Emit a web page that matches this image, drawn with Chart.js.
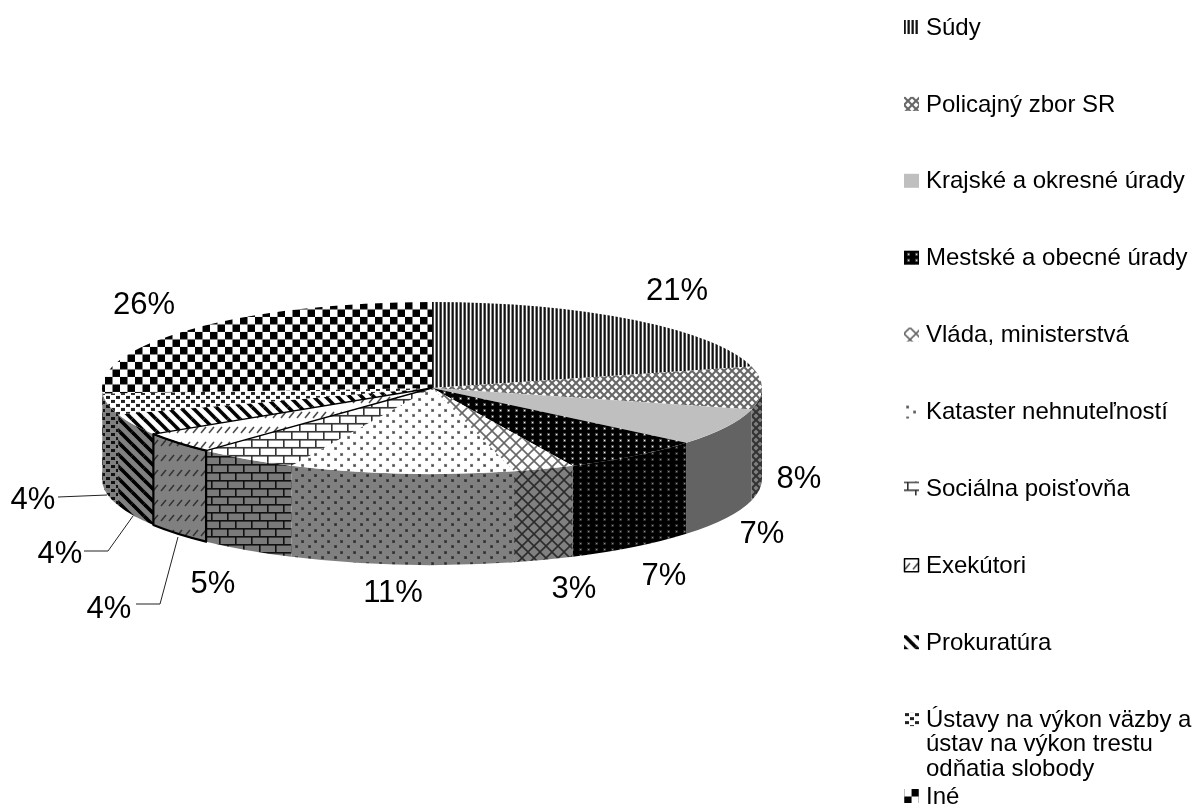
<!DOCTYPE html>
<html><head><meta charset="utf-8">
<style>html,body{margin:0;padding:0;background:#fff}canvas{display:block}</style>
<script src="https://cdn.jsdelivr.net/npm/chart.js@4"></script>
</head><body><canvas id="c" width="1194" height="807"></canvas>
<script>
const categories = ['Súdy','Policajný zbor SR','Krajské a okresné úrady','Mestské a obecné úrady','Vláda, ministerstvá','Kataster nehnuteľností','Sociálna poisťovňa','Exekútori','Prokuratúra',['Ústavy na výkon väzby a','ústav na výkon trestu','odňatia slobody'],'Iné'];
const shares = [21,8,7,7,3,11,5,4,4,4,26];

const CY = 388, R = 330, RY = 86, DEPTH = 91, SY = RY / R;
const labelSpots = [[677,291],[799,479],[762,534],[664,576],[574,589],[393,593],[213,584],[109,609],[60,554],[33,500],[144,305]];
const leaders = {7:[[178,537],[160,604],[136,604]], 8:[[133,516],[108,551],[84,551]], 9:[[107,495],[58,497]]};
const swatchShift = [[0,0],[0,0],[0,0],[0,0],[0,6],[0,0],[0,0],[0,0],[0,0],[0,0],[7.5,0]];
const FONT = 'Arial, "Liberation Sans", sans-serif';

function tile(w,h,bg,draw){
  const t=document.createElement('canvas');t.width=w;t.height=h;
  const g=t.getContext('2d');
  if(bg){g.fillStyle=bg;g.fillRect(0,0,w,h);}
  draw(g,w,h);return t;
}
function wrapLine(g,w,h,col,lw,x0,y0,x1,y1){
  g.strokeStyle=col;g.lineWidth=lw;g.lineCap='butt';
  for(const dx of [-w,0,w])for(const dy of [-h,0,h]){
    g.beginPath();g.moveTo(x0+dx,y0+dy);g.lineTo(x1+dx,y1+dy);g.stroke();
  }
}
const painters = [
  (bg,fg)=>tile(4,4,bg,(g)=>{['#111','#444','#fff','#888'].forEach((k,i)=>{g.fillStyle=k;g.fillRect(i,0,1,4);});}),
  (bg,fg)=>tile(8,8,bg,(g,w,h)=>{wrapLine(g,w,h,fg,2,0,0,8,8);wrapLine(g,w,h,fg,2,8,0,0,8);}),
  (bg,fg)=>tile(2,2,bg,()=>{}),
  (bg,fg)=>tile(8,6,bg,(g)=>{g.fillStyle=fg+'44';g.fillRect(3,2,3,3);g.fillStyle=fg;g.fillRect(4,3,1.2,1.2);}),
  (bg,fg)=>tile(12,12,bg,(g,w,h)=>{wrapLine(g,w,h,fg,1.6,0,0,12,12);wrapLine(g,w,h,fg,1.6,12,0,0,12);}),
  (bg,fg)=>tile(13,11,bg,(g)=>{for(const [x,y] of [[3,2],[10,7]]){g.fillStyle=fg+'aa';g.fillRect(x-1,y-1,3,3);g.fillStyle=fg;g.fillRect(x,y,1.4,1.4);}}),
  (bg,fg)=>tile(16,16,bg,(g)=>{g.fillStyle=fg;g.fillRect(0,0,16,1.6);g.fillRect(0,8,16,1.6);g.fillRect(3,0,1.6,8);g.fillRect(11,8,1.6,8);}),
  (bg,fg)=>tile(8,15,bg,(g,w,h)=>{wrapLine(g,w,h,fg,1.5,1,11,6,5);}),
  (bg,fg)=>tile(12,12,bg,(g,w,h)=>{wrapLine(g,w,h,fg,3.6,0,0,12,12);}),
  (bg,fg)=>tile(10,8,bg,(g)=>{g.fillStyle=fg;g.fillRect(1,1,4,3);g.fillRect(6,5,4,3);}),
  (bg,fg)=>tile(15,15,bg,(g)=>{g.fillStyle=fg;g.fillRect(0,0,7.5,7.5);g.fillRect(7.5,7.5,7.5,7.5);})
];
const topInk = [['#fff','#000'],['#fff','#666666'],['#bfbfbf','#bfbfbf'],['#000000','#ffffff'],['#ffffff','#666666'],['#ffffff','#444444'],['#ffffff','#333333'],['#ffffff','#444444'],['#ffffff','#000000'],['#ffffff','#222222'],['#ffffff','#000000']];
const wallInk = [['#808080','#000000'],['#808080','#333333'],['#636363','#636363'],['#000000','#888888'],['#808080','#2c2c2c'],['#808080','#2a2a2a'],['#7a7a7a','#111111'],['#808080','#333333'],['#808080','#000000'],['#808080','#111111'],['#808080','#000000']];

const ctx0 = document.getElementById('c').getContext('2d');
const topTiles = painters.map((p,i)=>p(topInk[i][0],topInk[i][1]));
const wallTiles = painters.map((p,i)=>p(wallInk[i][0],wallInk[i][1]));
const topFill = topTiles.map(t=>{const p=ctx0.createPattern(t,'repeat');p.setTransform(new DOMMatrix().scale(1,1/SY));return p;});
const wallFill = wallTiles.map(t=>ctx0.createPattern(t,'repeat'));
const swatchFill = topTiles.map(t=>ctx0.createPattern(t,'repeat'));

const pie3d = {
  id:'pie3d',
  beforeDatasetsDraw(chart){
    const ctx=chart.ctx, arcs=chart.getDatasetMeta(0).data;
    arcs.forEach((a,i)=>{
      const p=a.getProps(['x','y','startAngle','endAngle','outerRadius'],true);
      const a0=Math.max(p.startAngle,0), a1=Math.min(p.endAngle,Math.PI);
      if(a1<=a0) return;
      const ry=p.outerRadius*SY;
      ctx.beginPath();
      ctx.ellipse(p.x,p.y,p.outerRadius,ry,0,a0,a1);
      ctx.ellipse(p.x,p.y+DEPTH,p.outerRadius,ry,0,a1,a0,true);
      ctx.closePath();
      ctx.fillStyle=wallFill[i];ctx.fill();
    });
    ctx.save();
    const c=arcs[0].getProps(['y'],true).y;
    ctx.translate(0,c);ctx.scale(1,SY);ctx.translate(0,-c);
  },
  afterDatasetsDraw(chart){
    const ctx=chart.ctx, arcs=chart.getDatasetMeta(0).data;
    ctx.restore();
    const p=arcs[7].getProps(['x','y','startAngle','endAngle','outerRadius'],true);
    const ry=p.outerRadius*SY;
    ctx.strokeStyle='#000';ctx.lineJoin='round';
    ctx.lineWidth=1.3;
    ctx.beginPath();ctx.moveTo(p.x,p.y);
    ctx.ellipse(p.x,p.y,p.outerRadius,ry,0,p.startAngle,p.endAngle);
    ctx.closePath();ctx.stroke();
    ctx.lineWidth=2.2;
    ctx.beginPath();
    ctx.ellipse(p.x,p.y,p.outerRadius,ry,0,p.startAngle,p.endAngle);
    ctx.ellipse(p.x,p.y+DEPTH,p.outerRadius,ry,0,p.endAngle,p.startAngle,true);
    ctx.closePath();ctx.stroke();
    ctx.strokeStyle='#222';ctx.lineWidth=1;
    Object.values(leaders).forEach(pts=>{
      ctx.beginPath();pts.forEach((q,k)=>k?ctx.lineTo(q[0],q[1]):ctx.moveTo(q[0],q[1]));ctx.stroke();
    });
    ctx.fillStyle='#000';ctx.font='31px '+FONT;ctx.textAlign='center';ctx.textBaseline='middle';
    shares.forEach((v,i)=>ctx.fillText(v+'%',labelSpots[i][0],labelSpots[i][1]));
    const lx=904, tx=926, y0=27, step=76.9, lh=24.6;
    ctx.textAlign='left';ctx.font='24px '+FONT;
    categories.forEach((c,i)=>{
      const y=y0+i*step;
      const [sx,sy]=swatchShift[i];
      ctx.save();ctx.translate(lx-sx,y-7-sy);
      ctx.fillStyle=swatchFill[i];ctx.fillRect(sx,sy,15,14);
      if(i===7){ctx.strokeStyle='#000';ctx.lineWidth=1.5;ctx.strokeRect(.5,.5,14,13);}
      ctx.restore();
      ctx.fillStyle='#000';
      [].concat(c).forEach((s,k)=>ctx.fillText(s,tx,y+1+k*lh));
    });
  }
};

new Chart(ctx0,{
  type:'pie',
  data:{labels:categories.map(c=>[].concat(c).join(' ')),datasets:[{data:shares,backgroundColor:topFill,borderWidth:0,clip:false}]},
  options:{
    responsive:false,animation:false,events:[],
    layout:{padding:{left:102,right:432,top:CY-R,bottom:807-(CY+R)}},
    plugins:{legend:{display:false},tooltip:{enabled:false},title:{display:false}}
  },
  plugins:[pie3d]
});
</script></body></html>
